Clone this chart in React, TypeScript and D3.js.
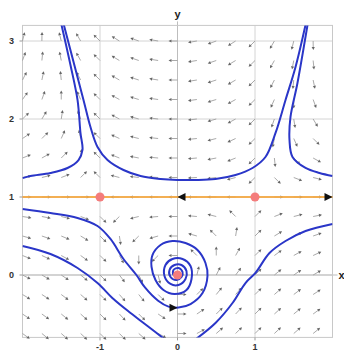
import { useRef, useEffect } from "react";
import * as d3 from "d3";

// axis ticks
const xTicks = [-1, 0, 1];
const yTicks = [0, 1, 2, 3];

// direction field sample points
const gridX = [-2, -1.75, -1.5, -1.25, -1, -0.75, -0.5, -0.25, 0, 0.25, 0.5, 0.75, 1, 1.25, 1.5, 1.75];
const gridY = [3, 2.75, 2.5, 2.25, 2, 1.75, 1.5, 1.25, 1, 0.75, 0.5, 0.25, 0, -0.25, -0.5, -0.75];

// arrow directions in degrees (one row per gridY, one column per gridX), null = no arrow
const angles: (number | null)[][] = [
  [76, 89, 104, 120, 135, 148, 160, 170, 180, -170, -160, -148, -135, -120, -104, -89],
  [70, 84, 101, 119, 135, 149, 161, 171, 180, -171, -161, -149, -135, -119, -101, -84],
  [63, 78, 96, 117, 135, 150, 162, 171, 180, -171, -162, -150, -135, -117, -96, -78],
  [55, 70, 90, 114, 135, 151, 163, 172, 180, -172, -163, -151, -135, -114, -90, -70],
  [45, 59, 81, 109, 135, 152, 164, 173, 180, -173, -164, -152, -135, -109, -81, -59],
  [34, 45, 66, 101, 135, 155, 166, 174, 180, -174, -166, -155, -135, -101, -66, -45],
  [22, 29, 45, 84, 135, 158, 169, 175, 180, -175, -169, -158, -135, -84, -45, -29],
  [10, 14, 21, 45, 135, 165, 173, 177, 180, -177, -173, -165, -135, -45, -21, -14],
  [0, 0, 0, 0, null, 180, 180, 180, 180, 180, 180, 180, null, 0, 0, 0],
  [-9, -11, -14, -21, -45, -135, -166, -175, 180, 175, 166, 135, 45, 21, 14, 11],
  [-16, -19, -23, -31, -45, -81, -135, -164, 180, 164, 135, 81, 45, 31, 23, 19],
  [-22, -25, -29, -36, -45, -61, -90, -135, 180, 135, 90, 61, 45, 36, 29, 25],
  [-27, -30, -34, -39, -45, -53, -63, -76, null, 76, 63, 53, 45, 39, 34, 30],
  [-31, -33, -37, -41, -45, -49, -51, -45, 0, 45, 51, 49, 45, 41, 37, 33],
  [-34, -36, -39, -42, -45, -47, -45, -34, 0, 34, 45, 47, 45, 42, 39, 36],
  [-36, -39, -41, -43, -45, -45, -41, -28, 0, 28, 41, 45, 45, 43, 41, 39],
];

// fixed points and the invariant line y = 1
const equilibria = [[-1, 1], [1, 1], [0, 0]];
const invariantLine = [[-2, 1], [2, 1]];

// trajectories
const trajLeft = [[-2, 1.242], [-1.897, 1.269], [-1.639, 1.308], [-1.419, 1.372], [-1.277, 1.474],
  [-1.226, 1.603], [-1.252, 1.821], [-1.29, 2.244], [-1.381, 2.692], [-1.5, 3.22]];
const trajArch = [[-1.47, 3.22], [-1.213, 2.244], [-1.123, 1.897], [-1.032, 1.641], [-0.903, 1.474],
  [-0.697, 1.346], [-0.477, 1.269], [-0.219, 1.231], [0, 1.218], [0.232, 1.218], [0.49, 1.231],
  [0.748, 1.282], [0.968, 1.372], [1.135, 1.513], [1.265, 1.821], [1.394, 2.244], [1.523, 2.667], [1.655, 3.22]];
const trajRight = [[1.68, 3.22], [1.548, 2.462], [1.458, 2.026], [1.445, 1.731], [1.484, 1.513],
  [1.652, 1.372], [1.832, 1.308], [2, 1.27]];
const trajSpiral = [[-2, 0.846], [-1.639, 0.795], [-1.29, 0.731], [-1.032, 0.628], [-0.865, 0.462],
  [-0.697, 0.205], [-0.53, 0], [-0.42, -0.16], [-0.25, -0.33], [-0.116, -0.405], [0.013, -0.417],
  [0.168, -0.372], [0.323, -0.231], [0.387, -0.013], [0.361, 0.154], [0.258, 0.321], [0.103, 0.41],
  [-0.065, 0.436], [-0.219, 0.385], [-0.323, 0.256], [-0.335, 0.103], [-0.284, -0.064], [-0.181, -0.192],
  [-0.039, -0.244], [0.116, -0.192], [0.181, -0.051], [0.168, 0.115], [0.065, 0.205], [-0.065, 0.205],
  [-0.155, 0.128], [-0.168, -0.013], [-0.09, -0.115], [0.013, -0.128], [0.103, -0.051], [0.116, 0.051],
  [0.052, 0.128], [-0.039, 0.128], [-0.103, 0.064], [-0.09, -0.026], [-0.013, -0.064], [0.052, -0.026],
  [0.065, 0.038], [0.013, 0.09], [-0.052, 0.064], [-0.052, 0], [0, -0.013]];
const trajLowLeft = [[-2, 0.372], [-1.639, 0.269], [-1.29, 0.09], [-1.032, -0.103], [-0.826, -0.308],
  [-0.606, -0.487], [-0.387, -0.654], [-0.17, -0.82]];
const trajLowRight = [[0.24, -0.82], [0.49, -0.615], [0.71, -0.359], [0.877, -0.103], [1.006, 0.026],
  [1.187, 0.282], [1.394, 0.436], [1.652, 0.564], [2, 0.654]];
const trajectories = [trajLeft, trajArch, trajRight, trajSpiral, trajLowLeft, trajLowRight];

// black flow arrowheads: position and direction (deg)
const flowMarks = [{ x: 0, y: 1, dir: 180 }, { x: 2, y: 1, dir: 0 }, { x: 0, y: -0.42, dir: 0 }];

export default function App() {
  const ref = useRef<SVGSVGElement>(null);
  const width = 344;
  const height = 353;

  useEffect(() => {
    const svg = d3.select(ref.current);
    svg.selectAll("*").remove();

    const x = d3.scaleLinear([-2, 2], [22.5, 332.5]);
    const y = d3.scaleLinear([-0.8, 3.2], [337.4, 25.4]);
    const [left, right] = x.range();
    const [bottom, top] = y.range();
    const font = "'Liberation Sans', Arial, sans-serif";

    svg.append("defs").append("clipPath").attr("id", "plot")
      .append("rect").attr("x", left).attr("y", top).attr("width", right - left).attr("height", bottom - top);

    // grid lines
    const grid = svg.append("g").attr("stroke", "#d4d4d4").attr("stroke-width", 1);
    grid.selectAll(".gx").data(xTicks).enter().append("line")
      .attr("x1", d => x(d)).attr("x2", d => x(d)).attr("y1", top).attr("y2", bottom);
    grid.selectAll(".gy").data(yTicks).enter().append("line")
      .attr("x1", left).attr("x2", right).attr("y1", d => y(d)).attr("y2", d => y(d));

    // axes through the origin, sticking out of the frame
    svg.append("line").attr("x1", x(0)).attr("x2", x(0)).attr("y1", top - 4).attr("y2", bottom)
      .attr("stroke", "#bdbdbd");
    svg.append("line").attr("x1", left).attr("x2", right + 5).attr("y1", y(0)).attr("y2", y(0))
      .attr("stroke", "#bdbdbd");

    // frame
    svg.append("rect").attr("x", left).attr("y", top).attr("width", right - left).attr("height", bottom - top)
      .attr("fill", "none").attr("stroke", "#c8c8c8");

    // tick marks + labels
    svg.selectAll(".ty").data(yTicks).enter().append("line")
      .attr("x1", left - 3).attr("x2", left).attr("y1", d => y(d)).attr("y2", d => y(d)).attr("stroke", "#999");
    svg.selectAll(".tx").data(xTicks).enter().append("line")
      .attr("x1", d => x(d)).attr("x2", d => x(d)).attr("y1", bottom).attr("y2", bottom + 3).attr("stroke", "#999");
    svg.selectAll(".ly").data(yTicks).enter().append("text")
      .attr("x", 14).attr("y", d => y(d) + 3).attr("text-anchor", "end")
      .attr("font-family", font).attr("font-size", 9).attr("font-weight", "bold").attr("fill", "#333")
      .text(d => d);
    svg.selectAll(".lx").data(xTicks).enter().append("text")
      .attr("x", d => x(d)).attr("y", bottom + 13).attr("text-anchor", "middle")
      .attr("font-family", font).attr("font-size", 9).attr("font-weight", "bold").attr("fill", "#333")
      .text(d => d);
    svg.append("text").attr("x", x(0)).attr("y", top - 7).attr("text-anchor", "middle")
      .attr("font-family", font).attr("font-size", 11).attr("font-weight", "bold").attr("fill", "#222").text("y");
    svg.append("text").attr("x", right + 6).attr("y", y(0) + 4)
      .attr("font-family", font).attr("font-size", 11).attr("font-weight", "bold").attr("fill", "#222").text("x");

    // direction field
    const field = svg.append("g");
    const L = 9, hl = 3, hw = 1.6;
    angles.forEach((row, i) => row.forEach((a, j) => {
      if (a === null) return;
      const tx = x(gridX[j]), ty = y(gridY[i]);
      const c = Math.cos(a * Math.PI / 180), s = -Math.sin(a * Math.PI / 180);
      const ex = tx + L * c, ey = ty + L * s;
      const bx = ex - hl * c, by = ey - hl * s;
      field.append("line").attr("x1", tx).attr("y1", ty).attr("x2", bx).attr("y2", by)
        .attr("stroke", "#a0a0a0").attr("stroke-width", 0.9);
      field.append("path")
        .attr("d", `M${ex},${ey}L${bx - hw * s},${by + hw * c}L${bx + hw * s},${by - hw * c}Z`)
        .attr("fill", "#666");
    }));

    // invariant line
    svg.append("path").datum(invariantLine)
      .attr("d", d3.line().x(d => x(d[0])).y(d => y(d[1])))
      .attr("stroke", "#f4a942").attr("stroke-width", 2).attr("fill", "none").attr("opacity", 0.9);

    // trajectories
    const line = d3.line().x(d => x(d[0])).y(d => y(d[1])).curve(d3.curveCatmullRom.alpha(0.5));
    svg.append("g").attr("clip-path", "url(#plot)")
      .selectAll("path").data(trajectories).enter().append("path")
      .attr("d", d => line(d as [number, number][]))
      .attr("fill", "none").attr("stroke", "#2a36c8").attr("stroke-width", 2);

    // equilibria
    svg.selectAll(".eq").data(equilibria).enter().append("circle")
      .attr("cx", d => x(d[0])).attr("cy", d => y(d[1])).attr("r", 4.5).attr("fill", "#f47c7c");

    // flow arrowheads
    svg.selectAll(".fm").data(flowMarks).enter().append("path")
      .attr("d", d => {
        const c = Math.cos(d.dir * Math.PI / 180), s = -Math.sin(d.dir * Math.PI / 180);
        const px = x(d.x), py = y(d.y);
        const bx = px - 8 * c, by = py - 8 * s;
        return `M${px},${py}L${bx - 4 * s},${by + 4 * c}L${bx + 4 * s},${by - 4 * c}Z`;
      })
      .attr("fill", "#111");
  }, []);

  return (
    <svg ref={ref} width={width} height={height} style={{ position: "absolute", left: 0, top: 0, background: "#fff" }} />
  );
}
